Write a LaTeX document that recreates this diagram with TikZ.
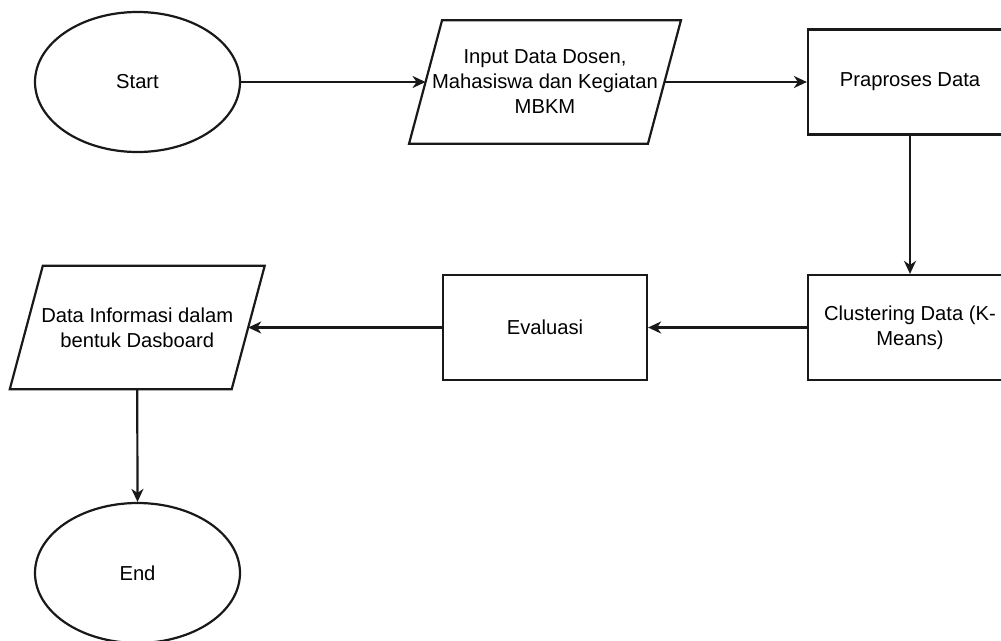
\documentclass[tikz,border=0pt]{standalone}
\usepackage{fontspec}
\setmainfont{Liberation Sans}
\usetikzlibrary{shapes.geometric,arrows.meta}
\begin{document}
\begin{tikzpicture}[x=1pt,y=-1pt,
  txt/.style={font=\fontsize{20.2}{25}\selectfont, text=black},
  term/.style={ellipse, draw=black!90, line width=2.2pt, minimum width=205pt, minimum height=140pt, inner sep=0pt, txt},
  proc/.style={rectangle, draw=black!90, line width=2.2pt, minimum width=204pt, minimum height=105pt, inner sep=0pt, align=center, txt},
  io/.style={rectangle, draw=none, inner sep=0pt, align=center, minimum height=123pt, txt},
  ioline/.style={draw=black!90, line width=2.2pt, line join=miter},
  conn/.style={draw=black!90, line width=2.2pt, -{Stealth[length=13pt,width=12pt,inset=4pt]}}
]
\clip (0,0) rectangle (1001,640);
\node[term] (start) at (137.5,82) {Start};
\node[io, minimum width=238.5pt] (inp) at (545,82) {Input Data Dosen,\\Mahasiswa dan Kegiatan\\MBKM};
\draw[ioline] ([xshift=-16.5pt]inp.south west) -- ([xshift=-16.5pt]inp.south east) -- ([xshift=16.5pt]inp.north east) -- ([xshift=16.5pt]inp.north west) -- cycle;
\node[proc] (prep) at (910,82) {Praproses Data};
\node[proc] (clus) at (910,327.5) {Clustering Data (K-\\Means)};
\node[proc] (eval) at (545,327.5) {Evaluasi};
\node[io, minimum width=221.5pt] (info) at (137.25,327.5) {Data Informasi dalam\\bentuk Dasboard};
\draw[ioline] ([xshift=-16.5pt]info.south west) -- ([xshift=-16.5pt]info.south east) -- ([xshift=16.5pt]info.north east) -- ([xshift=16.5pt]info.north west) -- cycle;
\node[term] (end) at (137.5,573) {End};
\draw[conn] (start.east) -- (inp.west);
\draw[conn] (inp.east) -- (prep.west);
\draw[conn] (prep.south) -- (clus.north);
\draw[conn] (clus.west) -- (eval.east);
\draw[conn] (eval.west) -- (info.east);
\draw[conn] (info.south) -- (end.north);
\end{tikzpicture}
\end{document}
